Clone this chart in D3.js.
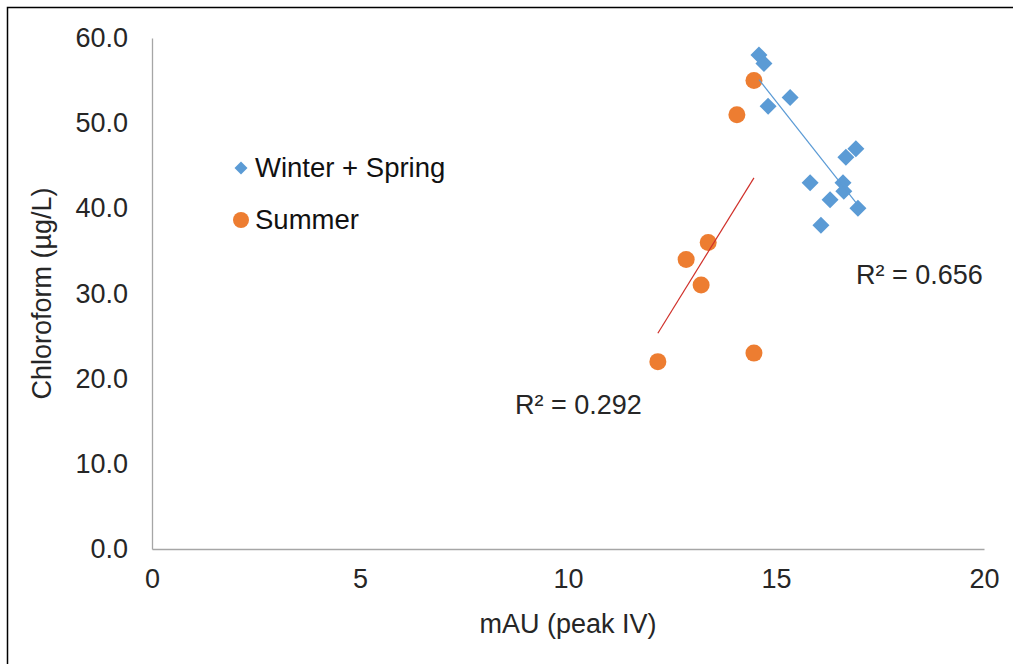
<!DOCTYPE html>
<html>
<head>
<meta charset="utf-8">
<script src="https://cdn.jsdelivr.net/npm/d3@7"></script>
<style>
  html, body { margin: 0; padding: 0; background: #fff; }
  svg { display: block; font-family: "Liberation Sans", Arial, sans-serif; }
</style>
</head>
<body>
<svg id="chart" width="1013" height="664"></svg>
<script>
// Series: Winter + Spring samples
const winterX = [14.59, 14.71, 14.81, 15.34, 15.82, 16.08, 16.30, 16.61, 16.63, 16.68, 16.92, 16.97];
const winterY = [58, 57, 52, 53, 43, 38, 41, 43, 42, 46, 47, 40];
// Series: Summer samples
const summerX = [14.47, 14.06, 13.37, 12.84, 13.20, 12.16, 14.47];
const summerY = [55, 51, 36, 34, 31, 22, 23];

const seriesNames = ["Winter + Spring", "Summer"];
const xTicks = [0, 5, 10, 15, 20];
const yTicks = [0, 10, 20, 30, 40, 50, 60];
const r2Labels = ["R² = 0.656", "R² = 0.292"];

const blue = "#5B9BD5", orange = "#ED7D31";
const fontSize = 27;

const svg = d3.select("#chart");

// outer frame
svg.append("rect")
  .attr("x", 7.5).attr("y", 7.5)
  .attr("width", 1030).attr("height", 680)
  .attr("fill", "none").attr("stroke", "#000").attr("stroke-width", 1.5);

const plot = { left: 152, right: 984, top: 38, bottom: 549 };
const x = d3.scaleLinear().domain([0, 20]).range([plot.left, plot.right]);
const y = d3.scaleLinear().domain([0, 60]).range([plot.bottom, plot.top]);

// axes
const xAxis = d3.axisBottom(x).tickValues(xTicks).tickSize(0).tickPadding(20).tickFormat(d3.format("d"));
const yAxis = d3.axisLeft(y).tickValues(yTicks).tickSize(0).tickPadding(24).tickFormat(d3.format(".1f"));

const gx = svg.append("g").attr("transform", `translate(0,${plot.bottom})`).call(xAxis);
const gy = svg.append("g").attr("transform", `translate(${plot.left},0)`).call(yAxis);
[gx, gy].forEach(g => {
  g.select(".domain").attr("stroke", "#a6a6a6").attr("stroke-width", 1.3);
  g.selectAll("text").attr("font-size", fontSize).attr("fill", "#262626")
    .attr("font-family", "'Liberation Sans', Arial, sans-serif");
});

// axis titles
svg.append("text")
  .attr("x", (plot.left + plot.right) / 2).attr("y", 633)
  .attr("text-anchor", "middle").attr("font-size", fontSize).attr("fill", "#262626")
  .text("mAU (peak IV)");
svg.append("text")
  .attr("transform", `translate(51,${(plot.top + plot.bottom) / 2}) rotate(-90)`)
  .attr("text-anchor", "middle").attr("font-size", fontSize).attr("fill", "#262626")
  .text("Chloroform (µg/L)");

// least-squares trendline over the x-range of a series
function trend(xs, ys) {
  const mx = d3.mean(xs), my = d3.mean(ys);
  let sxy = 0, sxx = 0;
  xs.forEach((v, i) => { sxy += (v - mx) * (ys[i] - my); sxx += (v - mx) * (v - mx); });
  const b = sxy / sxx, a = my - b * mx;
  const [x0, x1] = d3.extent(xs);
  return [[x0, a + b * x0], [x1, a + b * x1]];
}
const line = d3.line().x(d => x(d[0])).y(d => y(d[1]));

const diamond = s => `M0,${-s}L${s},0L0,${s}L${-s},0Z`;

// Winter + Spring points
svg.append("g").selectAll("path")
  .data(winterX.map((v, i) => [v, winterY[i]]))
  .join("path")
  .attr("d", diamond(8.5))
  .attr("transform", d => `translate(${x(d[0])},${y(d[1])})`)
  .attr("fill", blue);

// Summer points
svg.append("g").selectAll("circle")
  .data(summerX.map((v, i) => [v, summerY[i]]))
  .join("circle")
  .attr("cx", d => x(d[0])).attr("cy", d => y(d[1])).attr("r", 8.5)
  .attr("fill", orange);

// trendlines
svg.append("path").attr("d", line(trend(winterX, winterY)))
  .attr("fill", "none").attr("stroke", blue).attr("stroke-width", 1.2);
svg.append("path").attr("d", line(trend(summerX, summerY)))
  .attr("fill", "none").attr("stroke", "#D0302A").attr("stroke-width", 1.2);

// R² labels
svg.append("text").attr("x", 856).attr("y", 284).attr("font-size", fontSize).attr("fill", "#262626").text(r2Labels[0]);
svg.append("text").attr("x", 515).attr("y", 414).attr("font-size", fontSize).attr("fill", "#262626").text(r2Labels[1]);

// legend
const legend = svg.append("g");
legend.append("path").attr("d", diamond(6.5)).attr("transform", "translate(241,168)").attr("fill", blue);
legend.append("circle").attr("cx", 241).attr("cy", 220).attr("r", 8).attr("fill", orange);
legend.selectAll("text").data(seriesNames).join("text")
  .attr("x", 255).attr("y", (d, i) => 177 + i * 52)
  .attr("font-size", 27.5).attr("fill", "#111")
  .text(d => d);
</script>
</body>
</html>
